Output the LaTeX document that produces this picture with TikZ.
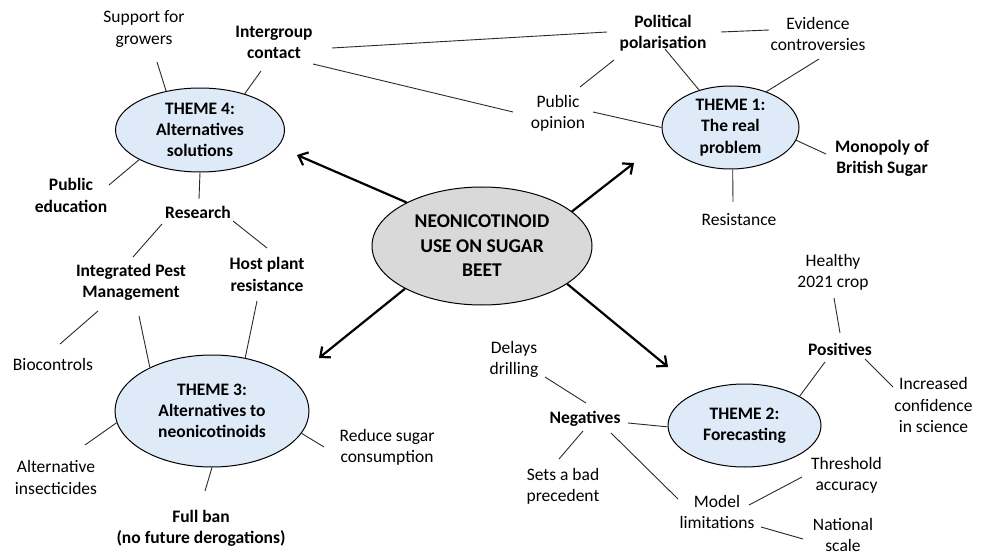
\documentclass[tikz,border=0pt]{standalone}
\usepackage{fontspec}
\setmainfont{Carlito}
\usetikzlibrary{shapes.geometric,arrows.meta}
\definecolor{themeblue}{HTML}{DEEAF7}
\definecolor{hubgray}{HTML}{D9D9D9}
\definecolor{linegray}{HTML}{2A2A2A}
\newcommand{\fsn}{\fontsize{17.5}{21.3}\selectfont}
\newcommand{\fsc}{\fontsize{19.5}{24.5}\selectfont}
\begin{document}
\begin{tikzpicture}[x=1pt,y=-1pt,
  lbl/.style={align=center, font=\fsn, inner sep=0pt},
  blbl/.style={align=center, font=\fsn\bfseries, inner sep=0pt},
  theme/.style={ellipse, draw, fill=themeblue, line width=1pt, inner xsep=0pt, inner ysep=-6pt, align=center, font=\fsn\bfseries},
  hub/.style={ellipse, draw, fill=hubgray, line width=1pt, inner xsep=0pt, inner ysep=-6pt, align=center, font=\fsc\bfseries},
  link/.style={line width=0.9pt, draw=linegray},
  arr/.style={line width=2.2pt, -{Straight Barb[length=8pt,width=14pt]}}]
\useasboundingbox (0,0) rectangle (983,556);

% central hub and themes
\node[hub, minimum width=220, minimum height=118] (c) at (482,246) {NEONICOTINOID\\USE ON SUGAR\\BEET};
\node[theme, minimum width=169, minimum height=84] (t4) at (200,130) {THEME 4:\\Alternatives\\solutions};
\node[theme, minimum width=137, minimum height=83] (t1) at (730.5,127.5) {THEME 1:\\The real\\problem};
\node[theme, minimum width=194, minimum height=112] (t3) at (212,411) {THEME 3:\\Alternatives to\\neonicotinoids};
\node[theme, minimum width=153, minimum height=83] (t2) at (744.5,425.5) {THEME 2:\\Forecasting};

% arrows
\coordinate (a4) at (297,155);
\coordinate (a1) at (634,163);
\coordinate (a3) at (319,358);
\coordinate (a2) at (668,367);
\draw[arr] (c.150.8) -- (a4);
\draw[arr] (c.21.8) -- (a1);
\draw[arr] (c.-151) -- (a3);
\draw[arr] (c.-24.4) -- (a2);

% labels theme 4
\node[lbl] (sup) at (144,29) {Support for\\growers};
\node[blbl] (inter) at (274,42.5) {Intergroup\\contact};
\node[blbl] (pubed) at (71,195.5) {Public\\education};
\node[blbl] (res) at (198,212) {Research};
\node[blbl] (ipm) at (131,282) {Integrated Pest\\Management};
\node[blbl] (host) at (267,274.5) {Host plant\\resistance};

% labels theme 1
\node[blbl] (pol) at (663,33) {Political\\polarisation};
\node[lbl] (evi) at (818,34) {Evidence\\controversies};
\node[lbl] (pubop) at (558,113) {Public\\opinion};
\node[blbl] (mono) at (882,158.5) {Monopoly of\\British Sugar};
\node[lbl] (resist) at (739,220) {Resistance};

% labels theme 3
\node[lbl] (bio) at (53,364) {Biocontrols};
\node[lbl] (altins) at (56,477.5) {Alternative\\insecticides};
\node[blbl] (ban) at (201,528.5) {Full ban\\(no future derogations)};
\node[lbl] (reduce) at (387,447.5) {Reduce sugar\\consumption};

% labels theme 2
\node[lbl] (healthy) at (833,272) {Healthy\\2021 crop};
\node[blbl] (pos) at (840,349) {Positives};
\node[lbl] (incr) at (933.5,405) {Increased\\confidence\\in science};
\node[lbl] (delays) at (514,359.5) {Delays\\drilling};
\node[blbl] (neg) at (585,419) {Negatives};
\node[lbl] (sets) at (563,486) {Sets a bad\\precedent};
\node[lbl] (model) at (717,512) {Model\\limitations};
\node[lbl] (thresh) at (846.5,475) {Threshold\\accuracy};
\node[lbl] (nat) at (843,535) {National\\scale};

% connectors theme 4
\draw[link] ([shift={(13,33)}]sup.center) -- (t4.131.8);
\draw[link] ([shift={(-13,28.5)}]inter.center) -- (t4.39.3);
\draw[link] ([shift={(38,-10.5)}]pubed.center) -- (t4.206.2);
\draw[link] (t4.270) -- ([shift={(1,-13)}]res.center);
\draw[link] ([shift={(-36,12)}]res.center) -- ([shift={(2,-25)}]ipm.center);
\draw[link] ([shift={(35,9)}]res.center) -- ([shift={(0,-26.5)}]host.center);
\draw[link] ([shift={(58,5.5)}]inter.center) -- ([shift={(-56,-1)}]pol.center);
\draw[link] ([shift={(39,21.5)}]inter.center) -- ([shift={(-45,-1)}]pubop.center);

% connectors theme 1
\draw[link] ([shift={(58,-1)}]pol.center) -- ([shift={(-49,-4)}]evi.center);
\draw[link] ([shift={(2,16)}]pol.center) -- (t1.130);
\draw[link] ([shift={(-49,27)}]pol.center) -- ([shift={(22,-26)}]pubop.center);
\draw[link] ([shift={(1,25)}]evi.center) -- (t1.45.8);
\draw[link] ([shift={(35,-1)}]pubop.center) -- (t1.180);
\draw[link] (t1.-11.5) -- ([shift={(-56,-4.5)}]mono.center);
\draw[link] (t1.-87) -- ([shift={(-6,-18)}]resist.center);

% connectors theme 3
\draw[link] ([shift={(-33,29)}]ipm.center) -- ([shift={(7,-20)}]bio.center);
\draw[link] ([shift={(8,34)}]ipm.center) -- (t3.145.3);
\draw[link] ([shift={(-10,26.5)}]host.center) -- (t3.58.9);
\draw[link] (t3.187.8) -- ([shift={(29,-32.5)}]altins.center);
\draw[link] (t3.-14.3) -- ([shift={(-63,-0.5)}]reduce.center);
\draw[link] (t3.270) -- ([shift={(4,-37.5)}]ban.center);

% connectors theme 2
\draw[link] ([shift={(1,26)}]healthy.center) -- ([shift={(0,-16)}]pos.center);
\draw[link] ([shift={(-15,13)}]pos.center) -- (t2.28.4);
\draw[link] ([shift={(25,10)}]pos.center) -- ([shift={(-40.5,-18)}]incr.center);
\draw[link] ([shift={(31,17.5)}]delays.center) -- ([shift={(1,-16)}]neg.center);
\draw[link] ([shift={(43,4)}]neg.center) -- (t2.181);
\draw[link] ([shift={(-2,12)}]neg.center) -- ([shift={(-4,-27)}]sets.center);
\draw[link] ([shift={(26,14)}]neg.center) -- ([shift={(-39,-13)}]model.center);
\draw[link] ([shift={(32,-7)}]model.center) -- ([shift={(-44.5,2)}]thresh.center);
\draw[link] ([shift={(44,15)}]model.center) -- ([shift={(-40,4)}]nat.center);
\end{tikzpicture}
\end{document}
